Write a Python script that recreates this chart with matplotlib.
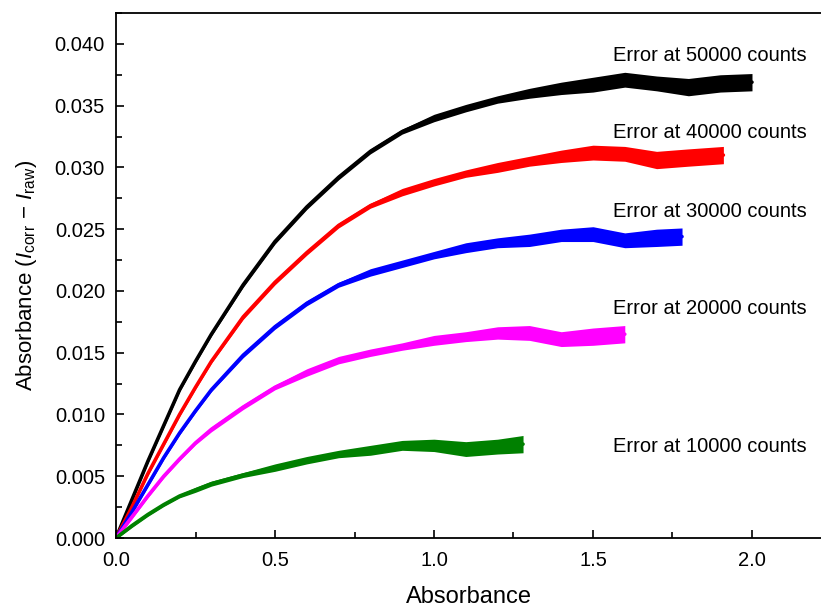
import numpy as np
import matplotlib
matplotlib.use('Agg')
import matplotlib.pyplot as plt
from matplotlib.ticker import MultipleLocator

plt.rcParams['font.family'] = ['Liberation Sans', 'DejaVu Sans']
plt.rcParams['mathtext.fontset'] = 'custom'
plt.rcParams['mathtext.rm'] = 'Liberation Sans'
plt.rcParams['mathtext.it'] = 'Liberation Sans:italic'

# values (absorbance vs. error), one list per series
# s_* is the half-width of the scattered band at each point
x_50k = [0, 0.05, 0.1, 0.15, 0.2, 0.25, 0.3, 0.4, 0.5, 0.6, 0.7, 0.8, 0.9, 1.0, 1.1, 1.2, 1.3, 1.4, 1.5, 1.6, 1.7, 1.8, 1.9, 2.0]
y_50k = [0, 0.0031, 0.0062, 0.0091, 0.0120, 0.0143, 0.0165, 0.0205, 0.0240, 0.0268, 0.0292, 0.0313, 0.0329, 0.0340,
         0.0348, 0.0355, 0.0360, 0.0364, 0.0367, 0.0371, 0.0368, 0.0365, 0.0368, 0.0369]
s_50k = [0.0001, 0.00015, 0.00015, 0.00015, 0.00015, 0.00015, 0.00015, 0.0002, 0.0002, 0.0002, 0.0002, 0.0002, 0.0002,
         0.0003, 0.0003, 0.0003, 0.0004, 0.0005, 0.0006, 0.0006, 0.0006, 0.0007, 0.0007, 0.0007]

x_40k = [0, 0.05, 0.1, 0.15, 0.2, 0.25, 0.3, 0.4, 0.5, 0.6, 0.7, 0.8, 0.9, 1.0, 1.1, 1.2, 1.3, 1.4, 1.5, 1.6, 1.7, 1.8, 1.91]
y_40k = [0, 0.0025, 0.0052, 0.0076, 0.0100, 0.0122, 0.0143, 0.0179, 0.0207, 0.0231, 0.0253, 0.0269, 0.0280, 0.0288,
         0.0295, 0.0300, 0.0305, 0.0309, 0.0312, 0.0311, 0.0306, 0.0308, 0.0310]
s_40k = [0.0001, 0.00015, 0.00015, 0.00015, 0.00015, 0.00015, 0.00015, 0.0002, 0.0002, 0.0002, 0.0002, 0.0002, 0.0003,
         0.0003, 0.0003, 0.0004, 0.0004, 0.0005, 0.0006, 0.0006, 0.0007, 0.0007, 0.0007]

x_30k = [0, 0.05, 0.1, 0.15, 0.2, 0.25, 0.3, 0.4, 0.5, 0.6, 0.7, 0.8, 0.9, 1.0, 1.1, 1.2, 1.3, 1.4, 1.5, 1.6, 1.7, 1.78]
y_30k = [0, 0.0021, 0.0043, 0.0065, 0.0085, 0.0103, 0.0120, 0.0148, 0.0171, 0.0190, 0.0205, 0.0215, 0.0222, 0.0229,
         0.0235, 0.0239, 0.0241, 0.0245, 0.0246, 0.0241, 0.0243, 0.0244]
s_30k = [0.0001, 0.00015, 0.00015, 0.00015, 0.00015, 0.00015, 0.00015, 0.0002, 0.0002, 0.0002, 0.0002, 0.0003, 0.0003,
         0.0003, 0.0004, 0.0004, 0.0005, 0.0005, 0.0006, 0.0006, 0.0007, 0.0007]

x_20k = [0, 0.05, 0.1, 0.15, 0.2, 0.25, 0.3, 0.4, 0.5, 0.6, 0.7, 0.8, 0.9, 1.0, 1.1, 1.2, 1.3, 1.4, 1.5, 1.6]
y_20k = [0, 0.0017, 0.0034, 0.0050, 0.0064, 0.0077, 0.0088, 0.0106, 0.0122, 0.0134, 0.0144, 0.0150, 0.0155, 0.0160,
         0.0163, 0.0166, 0.0166, 0.0161, 0.0163, 0.0165]
s_20k = [0.0001, 0.00015, 0.00015, 0.00015, 0.00015, 0.00015, 0.0002, 0.0002, 0.0002, 0.0003, 0.0003, 0.0003, 0.0003,
         0.0004, 0.0004, 0.0005, 0.0006, 0.0006, 0.0007, 0.0007]

x_10k = [0, 0.05, 0.1, 0.15, 0.2, 0.25, 0.3, 0.4, 0.5, 0.6, 0.7, 0.8, 0.9, 1.0, 1.1, 1.2, 1.28]
y_10k = [0, 0.0010, 0.0019, 0.0027, 0.0034, 0.0039, 0.0044, 0.0051, 0.0057, 0.0063, 0.0068, 0.0071, 0.0075, 0.0075,
         0.0072, 0.0074, 0.0076]
s_10k = [0.0001, 0.00015, 0.00015, 0.00015, 0.00015, 0.0002, 0.0002, 0.0002, 0.0003, 0.0003, 0.0003, 0.0004, 0.0004,
         0.0005, 0.0006, 0.0006, 0.0007]

labels = ['Error at 50000 counts', 'Error at 40000 counts', 'Error at 30000 counts',
          'Error at 20000 counts', 'Error at 10000 counts']
label_y = [0.0391, 0.0328, 0.0264, 0.0186, 0.0074]
colors = ['black', '#ff0000', '#0000ff', '#ff00ff', '#008000']

series = [(x_50k, y_50k, s_50k), (x_40k, y_40k, s_40k), (x_30k, y_30k, s_30k),
          (x_20k, y_20k, s_20k), (x_10k, y_10k, s_10k)]

fig = plt.figure(figsize=(8.21, 6.08), dpi=100)
ax = fig.add_axes([0.1413, 0.1151, 0.8587, 0.8635])

for (xs, ys, ss), c in zip(series, colors):
    xs, ys, ss = np.array(xs), np.array(ys), np.array(ss)
    ax.fill_between(xs, ys - ss, ys + ss, color=c, lw=0)
    ax.plot(xs, ys, color=c, lw=2.6, solid_capstyle='round', solid_joinstyle='round')

for txt, yy in zip(labels, label_y):
    ax.text(1.563, yy, txt, fontsize=14.5, va='center', ha='left')

ax.set_xlim(0, 2.217)
ax.set_ylim(0, 0.0425)
ax.xaxis.set_major_locator(MultipleLocator(0.5))
ax.xaxis.set_minor_locator(MultipleLocator(0.25))
ax.yaxis.set_major_locator(MultipleLocator(0.005))
ax.yaxis.set_minor_locator(MultipleLocator(0.0025))
ax.xaxis.set_major_formatter(lambda v, p: f'{v:.1f}')
ax.yaxis.set_major_formatter(lambda v, p: f'{v:.3f}')

ax.tick_params(which='both', direction='in', width=1.2, labelsize=14.5)
ax.tick_params(axis='x', which='both', pad=9)
ax.tick_params(axis='y', which='both', pad=8)
ax.tick_params(which='major', length=6)
ax.tick_params(which='minor', length=4)
ax.tick_params(top=False, right=False, which='both')

for sp in ['left', 'bottom', 'top']:
    ax.spines[sp].set_linewidth(1.3)
ax.spines['right'].set_visible(False)

ax.set_xlabel('Absorbance', fontsize=17, labelpad=12)
ax.set_ylabel(r'Absorbance ($I_{\mathrm{corr}}$ $-$ $I_{\mathrm{raw}}$)', fontsize=16, labelpad=11)

fig.savefig('out.png', dpi=100)
